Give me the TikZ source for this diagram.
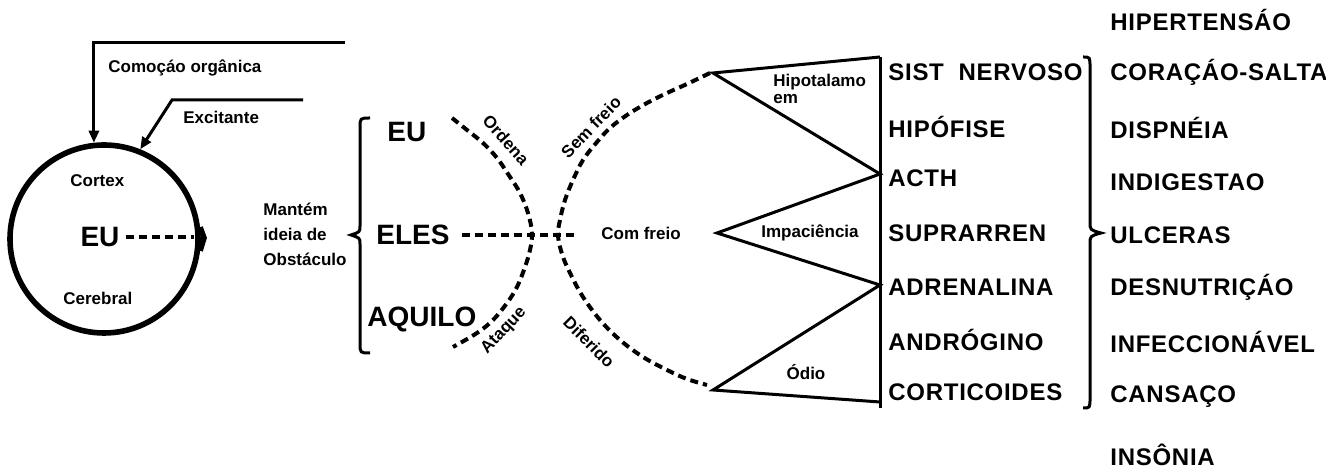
\documentclass[tikz,border=0pt]{standalone}
\usepackage{fontspec}
\setmainfont{Liberation Sans}
\newfontfamily\capsf[LetterSpace=3]{Liberation Sans}
\usetikzlibrary{arrows.meta}
\begin{document}
\begin{tikzpicture}[x=0.5pt,y=-0.5pt,
  small/.style={font=\fontsize{8.5}{10}\selectfont\bfseries, inner sep=0pt},
  caps/.style={font=\capsf\fontsize{12}{14}\selectfont\bfseries, inner sep=0pt, anchor=west},
  big/.style={font=\fontsize{14}{16}\selectfont\bfseries, inner sep=0pt},
  dashline/.style={line width=2pt, dash pattern=on 4pt off 2.5pt},
  thinline/.style={line width=1.5pt},
  arr/.style={thinline, -{Triangle[length=6pt,width=5pt]}}
]
\useasboundingbox (0,0) rectangle (1326,474);

% --- brain circle
\node[circle, draw, line width=2.8pt, minimum size=94pt, inner sep=0pt] (brain) at (104,239) {};
\draw[line width=2.8pt, line join=miter] (brain.7) -- (204,238) -- (brain.-7);
\node[big] (eu1) at (100,237) {EU};
\node[small, anchor=west] (cortex) at (70,181) {Cortex};
\node[small, anchor=west] (cerebral) at (63,298) {Cerebral};
\draw[dashline] ([xshift=3pt]eu1.east) -- (194,237);

% --- incoming arrows
\coordinate (c1) at (345,43);
\coordinate (c2) at (303,100);
\coordinate (e1) at (172,100);
\draw[arr] (c1) -| (brain.96.5);
\draw[arr] (c2) -- (e1) -- (brain.68);
\node[small, anchor=west] (comocao) at (108,68) {Comoçáo orgânica};
\node[small, anchor=west] (excit) at (183,117) {Excitante};

% --- Mantém
\node[small, anchor=west, align=left, font=\fontsize{8.5}{12.5}\selectfont\bfseries] (mantem) at (263,234) {Mantém\\ideia de\\Obstáculo};
\draw[thinline] (370,118) .. controls (360,118) .. (360,128) -- (360,226) .. controls (360,232) .. (351,235) .. controls (360,238) .. (360,244) -- (360,343) .. controls (360,353) .. (370,353);

\node[big, anchor=west] (eu2) at (387,132) {EU};
\node[big, anchor=west] (eles) at (376,235) {ELES};
\node[big, anchor=west] (aquilo) at (367,319) {AQUILO};
\coordinate (mid) at (574,235);
\draw[dashline] ([xshift=6pt]eles.east) -- (mid);

% --- arcs
\draw[dashline] plot[smooth, tension=0.6] coordinates {(452,118) (467,130) (483,143) (497,158) (510,177) (520,193) (528,213) (532,233) (530,250) (525,267) (517,287) (507,303) (493,320) (477,333) (453,347)};
\draw[dashline] plot[smooth, tension=0.6] coordinates {(710,73) (687,84) (667,93) (647,103) (627,115) (610,128) (597,142) (583,160) (573,180) (565,200) (560,220) (558,236) (563,257) (572,277) (583,297) (600,320) (620,340) (643,357) (667,370) (687,379) (707,385)};
\node[small, rotate=-48] (ordena) at (506,140) {Ordena};
\node[small, rotate=47] (ataque) at (504,331) {Ataque};
\node[small, rotate=46] (semfreio) at (591,127) {Sem freio};
\node[small, rotate=-45] (diferido) at (589,342) {Diferido};
\node[small] (comfreio) at (641,233) {Com freio};

% --- triangles
\coordinate (t1) at (713,73);
\coordinate (v1) at (880,57);
\coordinate (acth) at (880,174);
\coordinate (t2) at (717,233);
\coordinate (adr) at (880,285);
\coordinate (t3) at (713,390);
\coordinate (v2) at (880,402);
\coordinate (vb) at (880,408);
\draw[thinline] (v1) -- (vb);
\draw[thinline] (v1) -- (t1) -- (acth) -- (t2) -- (adr) -- (t3) -- (v2);
\node[small, anchor=north west, align=left, font=\fontsize{8.5}{8.5}\selectfont\bfseries] (hipot) at (773,74) {Hipotalamo\\em};
\node[small] (impac) at (810,233) {Impaciência};
\node[small] (odio) at (806,372) {Ódio};

% --- middle column
\node[caps] (n1) at (888,72) {SIST\ \ NERVOSO};
\node[caps] (n2) at (888,127) {HIPÓFISE};
\node[caps] (n3) at (888,178) {ACTH};
\node[caps] (n4) at (888,233) {SUPRARREN};
\node[caps] (n5) at (888,287) {ADRENALINA};
\node[caps] (n6) at (888,340) {ANDRÓGINO};
\node[caps] (n7) at (888,392) {CORTICOIDES};

% --- right brace
\draw[thinline] (1083,57) .. controls (1090,57) .. (1090,67) -- (1090,222) .. controls (1090,230) .. (1101,233) .. controls (1090,236) .. (1090,244) -- (1090,398) .. controls (1090,408) .. (1083,408);

% --- right column
\node[caps] (r0) at (1110,20) {HIPERTENSÁO};
\node[caps] (r1) at (1110,72) {CORAÇÁO-SALTA};
\node[caps] (r2) at (1110,128) {DISPNÉIA};
\node[caps] (r3) at (1110,182) {INDIGESTAO};
\node[caps] (r4) at (1110,235) {ULCERAS};
\node[caps] (r5) at (1110,287) {DESNUTRIÇÁO};
\node[caps] (r6) at (1110,342) {INFECCIONÁVEL};
\node[caps] (r7) at (1110,397) {CANSAÇO};
\node[caps] (r8) at (1110,455) {INSÔNIA};
\end{tikzpicture}
\end{document}
